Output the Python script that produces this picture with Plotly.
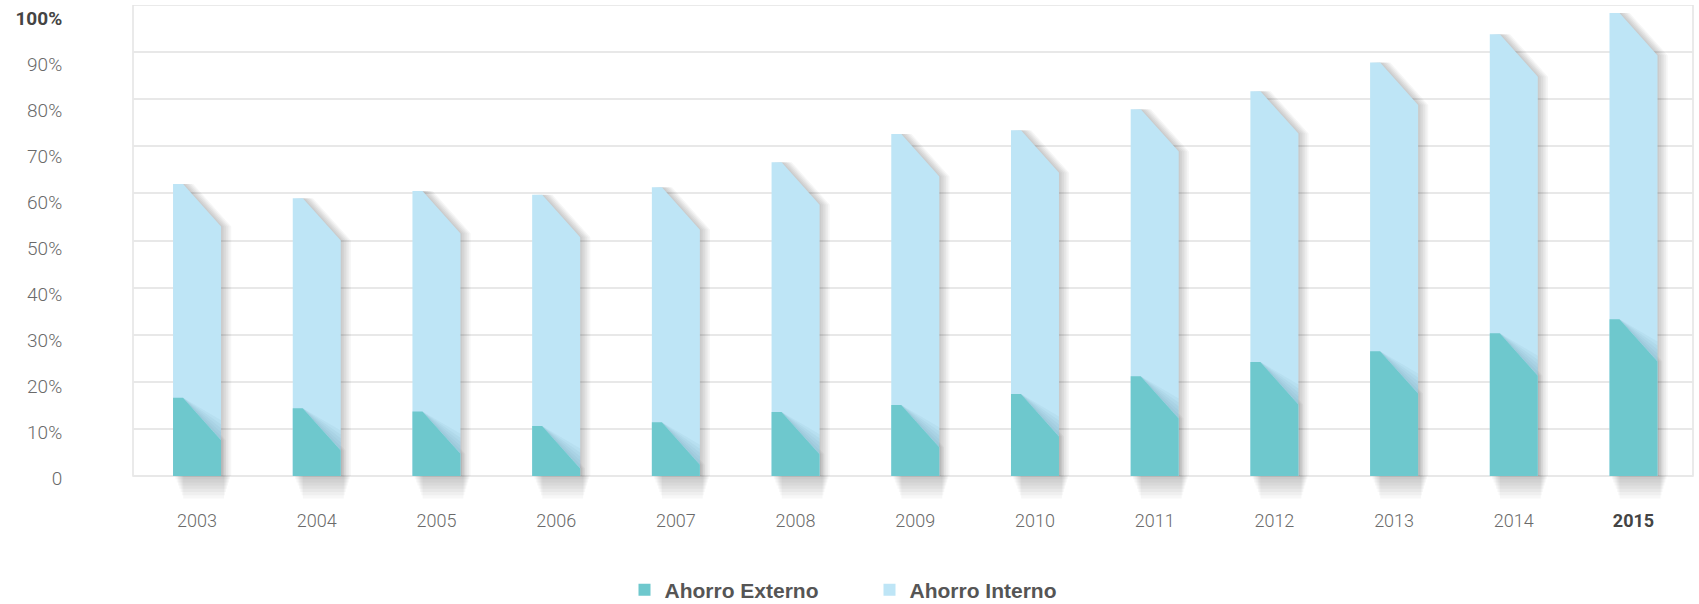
import plotly.graph_objects as go

# Savings composition, share of the total (percent)
years = ["2003", "2004", "2005", "2006", "2007", "2008", "2009",
         "2010", "2011", "2012", "2013", "2014", "2015"]
ahorro_externo = [16.6, 14.4, 13.7, 10.6, 11.4, 13.6, 15.1,
                  17.4, 21.2, 24.2, 26.5, 30.3, 33.3]
ahorro_interno = [45.4, 44.6, 46.8, 49.1, 49.9, 53.0, 57.5,
                  56.0, 56.7, 57.5, 61.3, 63.5, 65.0]
y_tick_values = [0, 10, 20, 30, 40, 50, 60, 70, 80, 90, 100]
y_tick_labels = ["0", "10%", "20%", "30%", "40%", "50%", "60%",
                 "70%", "80%", "90%", "<b><span style='color:#444'>100%</span></b>"]
x_tick_labels = years[:-1] + ["<b><span style='color:#444'>2015</span></b>"]

# ---- page geometry -------------------------------------------------------
W, H = 1699, 604
M_L, M_R, M_T, M_B = 133, 6, 5, 100
X_RANGE = [-0.535, 12.497]
PLOT_W = W - M_L - M_R
PLOT_H = H - M_T - M_B
PX_Y_PER_UNIT = 4.71                       # 0..100 spans 471 px
Y_MIN = -(PLOT_H - 100 * PX_Y_PER_UNIT) / PX_Y_PER_UNIT
PX_X = (X_RANGE[1] - X_RANGE[0]) / PLOT_W  # x data units per pixel
PX_Y = 1 / PX_Y_PER_UNIT                   # y data units per pixel
# the percentage labels sit on a slightly tighter scale than the grid
LABEL_RANGE = [-5.652, 102.826]

# ---- bar styling ----------------------------------------------------------
HALF_W = 24 * PX_X        # half bar width
FLAT = 10 * PX_X          # flat part of the folded top
DROP = 9.0                # how far the folded corner falls (y units)

C_EXT = "#6ec8cd"
C_INT = "#bee5f6"

totals = [e + i for e, i in zip(ahorro_externo, ahorro_interno)]


def folded_bar(xc, top, dx=0.0):
    """Outline of a bar whose top-right corner is folded down."""
    xl, xr = xc - HALF_W + dx, xc + HALF_W + dx
    xf = xl + FLAT
    return [xl, xl, xf, xr, xr, xl], [0, top, top, top - DROP, 0, 0]


def join(polys):
    xs, ys = [], []
    for px, py in polys:
        xs += px + [None]
        ys += py + [None]
    return xs, ys


def poly_trace(polys, color):
    xs, ys = join(polys)
    return go.Scatter(x=xs, y=ys, mode="lines", fill="toself",
                      fillcolor=color, line=dict(width=0),
                      hoverinfo="skip", showlegend=False)


fig = go.Figure()
idx = list(range(len(years)))

# soft shadow under each bar
for k in range(1, 8):
    polys = []
    for i in idx:
        xl = i - HALF_W + (1 + 1.3 * k) * PX_X
        xr = i + HALF_W + (10 - 1.0 * k) * PX_X
        yb = -(3.2 * k) * PX_Y
        polys.append(([xl, xr, xr, xl, xl], [0, 0, yb, yb, 0]))
    fig.add_trace(poly_trace(polys, "rgba(0,0,0,0.03)"))

# side shadow cast by the whole strip
for k in range(1, 7):
    polys = [folded_bar(i, totals[i], dx=1.7 * k * PX_X) for i in idx]
    fig.add_trace(poly_trace(polys, "rgba(0,0,0,0.035)"))

# side shadow of the lower fold
for k in range(1, 4):
    polys = [folded_bar(i, ahorro_externo[i], dx=1.6 * k * PX_X) for i in idx]
    fig.add_trace(poly_trace(polys, "rgba(0,0,0,0.03)"))

# Ahorro Interno (full strip, visible above the lower fold)
fig.add_trace(poly_trace([folded_bar(i, totals[i]) for i in idx], C_INT))

# shading thrown by the lower fold onto the light strip
for h in (4, 8, 12, 16, 20):
    polys = []
    for i in idx:
        e = ahorro_externo[i]
        xl, xr = i - HALF_W, i + HALF_W
        xf = xl + FLAT
        polys.append(([xf, xr, xr, xf],
                      [e, e - DROP, e - DROP + h * PX_Y, e]))
    fig.add_trace(poly_trace(polys, "rgba(60,110,140,0.05)"))

# Ahorro Externo
fig.add_trace(poly_trace([folded_bar(i, ahorro_externo[i]) for i in idx], C_EXT))

# empty trace that carries the percentage label axis
fig.add_trace(go.Scatter(x=[None], y=[None], yaxis="y2", mode="markers",
                         hoverinfo="skip", showlegend=False))

# legend entries
for name, col in (("Ahorro Externo", C_EXT), ("Ahorro Interno", C_INT)):
    fig.add_trace(go.Scatter(x=[None], y=[None], mode="markers", name=name,
                             marker=dict(symbol="square", size=14, color=col)))

# plot frame
fig.add_shape(type="rect", xref="paper", yref="y", x0=0, x1=1, y0=0, y1=100,
              line=dict(color="#e4e4e4", width=1.5), layer="below")

x_font = dict(family="Roboto", size=18, color="#6a6a6a", weight=300)
y_font = dict(family="Roboto", size=19, color="#6a6a6a", weight=300)

fig.update_layout(
    width=W, height=H,
    margin=dict(l=M_L, r=M_R, t=M_T, b=M_B, autoexpand=False),
    plot_bgcolor="white", paper_bgcolor="white",
    xaxis=dict(range=X_RANGE, tickmode="array", tickvals=idx,
               ticktext=x_tick_labels, showgrid=False, zeroline=False,
               showline=False, ticks="", ticklabelstandoff=4,
               tickfont=x_font, fixedrange=True, automargin=False),
    yaxis=dict(range=[Y_MIN, 100.01], tickmode="array", tickvals=y_tick_values,
               showticklabels=False, showgrid=True, gridcolor="#e8e8e8",
               gridwidth=1.5, zeroline=False, showline=False, ticks="",
               fixedrange=True, automargin=False),
    yaxis2=dict(range=LABEL_RANGE, overlaying="y", side="left",
                tickmode="array", tickvals=y_tick_values,
                ticktext=y_tick_labels, showgrid=False, zeroline=False,
                showline=False, ticks="outside", ticklen=66,
                tickcolor="rgba(0,0,0,0)", tickfont=y_font,
                fixedrange=True, automargin=False),
    legend=dict(orientation="h", xref="container", yref="container",
                x=0.5 + 20 / W, xanchor="center", y=1 - 590 / H, yanchor="middle",
                font=dict(family="Liberation Sans", size=21, color="#555555",
                          weight="bold"),
                entrywidth=200, itemsizing="constant"),
    showlegend=True,
)

fig.write_html("out.html")
